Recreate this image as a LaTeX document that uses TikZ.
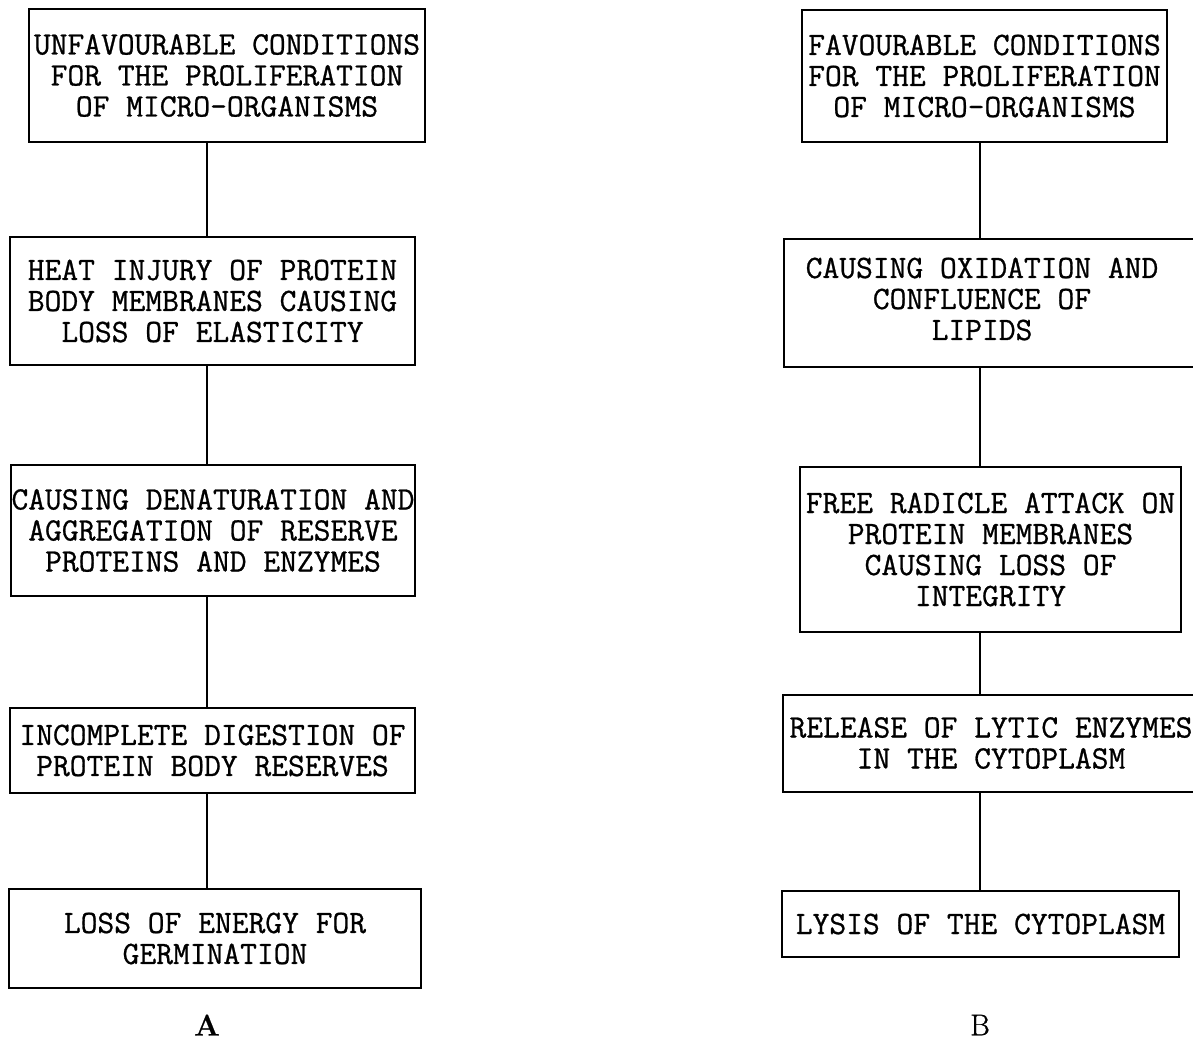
\documentclass[tikz,border=0pt]{standalone}
\usepackage{fontspec}
\newfontfamily\typewr[FakeBold=0.8]{Latin Modern Mono}
\newfontfamily\tagfont[FakeBold=0.6]{Latin Modern Roman}
\begin{document}
\begin{tikzpicture}[x=1pt,y=-1pt,
  box/.style={draw, line width=1.6pt, inner sep=0pt, align=center,
    font=\typewr\fontsize{32.6}{31}\selectfont},
  txt/.style={inner sep=0pt, align=center, font=\typewr\fontsize{32.6}{31}\selectfont},
  conn/.style={line width=1.6pt},
  tag/.style={font=\tagfont\fontsize{30}{30}\selectfont}]
\useasboundingbox (0,0) rectangle (1193,1063);
% column A
\coordinate (colA) at (207,0);
\node[box, minimum width=396pt, minimum height=133pt] (a1) at (227,75.5)
  {UNFAVOURABLE CONDITIONS\\FOR THE PROLIFERATION\\OF MICRO-ORGANISMS};
\node[box, minimum width=405pt, minimum height=128pt] (a2) at (212.5,301)
  {HEAT INJURY OF PROTEIN\\BODY MEMBRANES CAUSING\\LOSS OF ELASTICITY};
\node[box, minimum width=404pt, minimum height=131pt] (a3) at (213,530.5)
  {CAUSING DENATURATION AND\\AGGREGATION OF RESERVE\\PROTEINS AND ENZYMES};
\node[box, minimum width=405pt, minimum height=85pt] (a4) at (212.5,750.5)
  {INCOMPLETE DIGESTION OF\\PROTEIN BODY RESERVES};
\node[box, minimum width=412pt, minimum height=99pt] (a5) at (215,938.5)
  {LOSS OF ENERGY FOR\\GERMINATION};
\draw[conn] (a1.south -| colA) -- (a2.north -| colA);
\draw[conn] (a2.south -| colA) -- (a3.north -| colA);
\draw[conn] (a3.south -| colA) -- (a4.north -| colA);
\draw[conn] (a4.south -| colA) -- (a5.north -| colA);
\node[tag, font=\tagfont\bfseries\fontsize{30}{30}\selectfont] (labA) at (207,1025) {A};
% column B
\coordinate (colB) at (980,0);
\node[box, minimum width=365pt, minimum height=132pt] (b1) at (984.5,76)
  {FAVOURABLE CONDITIONS\\FOR THE PROLIFERATION\\OF MICRO-ORGANISMS};
\node[box, minimum width=426pt, minimum height=128pt] (b2) at (997,303) {};
\node[txt] (b2t) at (982,299) {CAUSING OXIDATION AND\\CONFLUENCE OF\\LIPIDS};
\node[box, minimum width=381pt, minimum height=165pt] (b3) at (990.5,549.5)
  {FREE RADICLE ATTACK ON\\PROTEIN MEMBRANES\\CAUSING LOSS OF\\INTEGRITY};
\node[box, minimum width=427pt, minimum height=97pt] (b4) at (996.5,743.5) {};
\node[txt] (b4t) at (991,743) {RELEASE OF LYTIC ENZYMES\\IN THE CYTOPLASM};
\node[box, minimum width=397pt, minimum height=66pt] (b5) at (980.5,924)
  {LYSIS OF THE CYTOPLASM};
\draw[conn] (b1.south -| colB) -- (b2.north -| colB);
\draw[conn] (b2.south -| colB) -- (b3.north -| colB);
\draw[conn] (b3.south -| colB) -- (b4.north -| colB);
\draw[conn] (b4.south -| colB) -- (b5.north -| colB);
\node[tag] (labB) at (980,1025) {B};
\end{tikzpicture}
\end{document}
